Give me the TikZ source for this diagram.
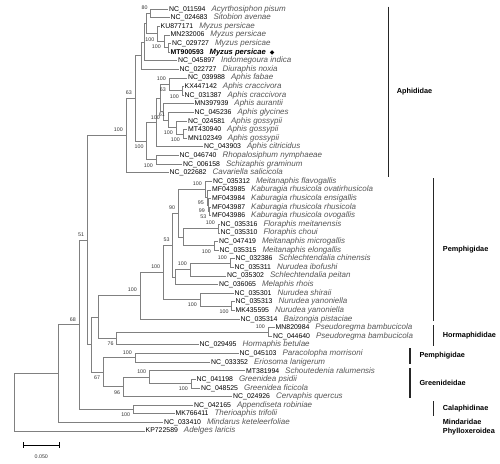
\documentclass[tikz,border=0pt]{standalone}
\usepackage{fontspec}
\setmainfont{Liberation Sans}
\newfontfamily\dejavu{DejaVu Sans}
\usetikzlibrary{calc}
\definecolor{brc}{HTML}{808080}
\definecolor{spc}{HTML}{555555}
\definecolor{bsc}{HTML}{333333}
\newcommand\accf{\fontsize{6.9}{7}\selectfont}
\newcommand\spf{\fontsize{8}{8.5}\selectfont\itshape\color{spc}}
\newcommand\mkn[4]{\path let \p1=($(#3)!.5!(#4)$) in coordinate (#1) at (#2pt,\y1);}
\newcommand\lf[5]{\coordinate (#1) at (#3,{9+(#2-1)*8.61}); \node[leaf] (#1t) at (#1) {{\accf #4}\hspace{6pt}{\spf #5}};}
\newcommand\kids[3]{\draw[brl] (#1) |- (#2); \draw[brl] (#1) |- (#3);}
\tikzset{
  leaf/.style={anchor=west, inner sep=1pt, text=black},
  bs/.style={font=\fontsize{5.3}{6}\selectfont, text=bsc, inner sep=0pt},
  bsu/.style={bs, anchor=east, xshift=-3pt, yshift=5.5pt},
  bsd/.style={bs, anchor=east, xshift=-3pt, yshift=-5.5pt},
  brl/.style={draw=brc, line width=0.6pt},
  bar/.style={draw=black!85, line width=1.6pt},
  clade/.style={anchor=west, inner sep=0pt, font=\fontsize{7.3}{8}\selectfont\bfseries},
  scl/.style={draw=black, line width=1pt}
}
\begin{document}
\begin{tikzpicture}[x=1pt,y=-1pt]
\useasboundingbox (0,0) rectangle (500,463);
% leaves
\lf{l1}{1}{168}{NC\_011594}{Acyrthosiphon pisum}
\lf{l2}{2}{169.5}{NC\_024683}{Sitobion avenae}
\lf{l3}{3}{159.5}{KU877171}{Myzus persicae}
\lf{l4}{4}{169.5}{MN232006}{Myzus persicae}
\lf{l5}{5}{171}{NC\_029727}{Myzus persicae}
\coordinate (l6) at (169.5,{9+5*8.61});
\node[leaf] (l6t) at (l6) {{\accf\bfseries MT900593}\hspace{6pt}{\fontsize{7.6}{8.5}\selectfont\bfseries\itshape Myzus persicae}\hspace{4pt}{\dejavu\fontsize{6}{7}\selectfont ◆}};
\lf{l7}{7}{177}{NC\_045897}{Indomegoura indica}
\lf{l8}{8}{178.5}{NC\_022727}{Diuraphis noxia}
\lf{l9}{9}{187}{NC\_039988}{Aphis fabae}
\lf{l10}{10}{183.5}{KX447142}{Aphis craccivora}
\lf{l11}{11}{183.5}{NC\_031387}{Aphis craccivora}
\lf{l12}{12}{193.5}{MN397939}{Aphis aurantii}
\lf{l13}{13}{193.5}{NC\_045236}{Aphis glycines}
\lf{l14}{14}{187}{NC\_024581}{Aphis gossypii}
\lf{l15}{15}{187}{MT430940}{Aphis gossypii}
\lf{l16}{16}{187}{MN102349}{Aphis gossypii}
\lf{l17}{17}{203}{NC\_043903}{Aphis citricidus}
\lf{l18}{18}{178.5}{NC\_046740}{Rhopalosiphum nymphaeae}
\lf{l19}{19}{182}{NC\_006158}{Schizaphis graminum}
\lf{l20}{20}{168.5}{NC\_022682}{Cavariella salicicola}
\lf{l21}{21}{212}{NC\_035312}{Meitanaphis flavogallis}
\lf{l22}{22}{211}{MF043985}{Kaburagia rhusicola ovatirhusicola}
\lf{l23}{23}{211}{MF043984}{Kaburagia rhusicola ensigallis}
\lf{l24}{24}{211}{MF043987}{Kaburagia rhusicola rhusicola}
\lf{l25}{25}{211}{MF043986}{Kaburagia rhusicola ovogallis}
\lf{l26}{26}{219.5}{NC\_035316}{Floraphis meitanensis}
\lf{l27}{27}{219.5}{NC\_035310}{Floraphis choui}
\lf{l28}{28}{218}{NC\_047419}{Meitanaphis microgallis}
\lf{l29}{29}{218.5}{NC\_035315}{Meitanaphis elongallis}
\lf{l30}{30}{234.5}{NC\_032386}{Schlechtendalia chinensis}
\lf{l31}{31}{233.5}{NC\_035311}{Nurudea ibofushi}
\lf{l32}{32}{226}{NC\_035302}{Schlechtendalia peitan}
\lf{l33}{33}{218}{NC\_036065}{Melaphis rhois}
\lf{l34}{34}{233.5}{NC\_035301}{Nurudea shiraii}
\lf{l35}{35}{234.5}{NC\_035313}{Nurudea yanoniella}
\lf{l36}{36}{234.5}{MK435595}{Nurudea yanoniella}
\lf{l37}{37}{239.5}{NC\_035314}{Baizongia pistaciae}
\lf{l38}{38}{274.5}{MN820984}{Pseudoregma bambucicola}
\lf{l39}{39}{272}{NC\_044640}{Pseudoregma bambucicola}
\lf{l40}{40}{198.5}{NC\_029495}{Hormaphis betulae}
\lf{l41}{41}{238.5}{NC\_045103}{Paracolopha morrisoni}
\lf{l42}{42}{210}{NC\_033352}{Eriosoma lanigerum}
\lf{l43}{43}{245}{MT381994}{Schoutedenia ralumensis}
\lf{l44}{44}{195.5}{NC\_041198}{Greenidea psidii}
\lf{l45}{45}{200}{NC\_048525}{Greenidea ficicola}
\lf{l46}{46}{232}{NC\_024926}{Cervaphis quercus}
\lf{l47}{47}{193}{NC\_042165}{Appendiseta robiniae}
\lf{l48}{48}{174.5}{MK766411}{Therioaphis trifolii}
\lf{l49}{49}{163}{NC\_033410}{Mindarus keteleerfoliae}
\lf{l50}{50}{144.5}{KP722589}{Adelges laricis}
% inner nodes
\mkn{I}{150.7}{l1}{l2}
\mkn{L}{168}{l5}{l6}
\mkn{K}{164}{l4}{L}
\mkn{J}{157.5}{l3}{K}
\mkn{M}{146.5}{I}{J}
\mkn{H}{144.3}{M}{l7}
\mkn{F}{141}{H}{l8}
\mkn{Cr}{182}{l10}{l11}
\mkn{Fa}{169}{l9}{Cr}
\mkn{GG}{183}{l15}{l16}
\mkn{G3}{176}{l14}{GG}
\mkn{N61}{168}{l13}{G3}
\mkn{N2}{163}{l12}{N61}
\mkn{N1}{160}{Fa}{N2}
\mkn{AP}{156}{N1}{l17}
\mkn{RS}{156}{l18}{l19}
\mkn{G}{146.7}{AP}{RS}
\mkn{E}{135}{F}{G}
\mkn{D}{126}{E}{l20}
\mkn{MF3}{209.5}{l24}{l25}
\mkn{MF2}{208}{l23}{MF3}
\mkn{MF1}{207}{l22}{MF2}
\mkn{Kab}{205}{l21}{MF1}
\mkn{Flor}{218}{l26}{l27}
\mkn{Meit}{214}{l28}{l29}
\mkn{FM}{183}{Flor}{Meit}
\mkn{W}{178.3}{Kab}{FM}
\mkn{P1}{230}{l30}{l31}
\mkn{P2}{190}{P1}{l32}
\mkn{P3}{175}{P2}{l33}
\mkn{T}{172.7}{W}{P3}
\mkn{V}{231.7}{l35}{l36}
\mkn{U}{200}{l34}{V}
\mkn{S}{163.3}{T}{U}
\mkn{Pem}{140}{S}{l37}
\mkn{PsR}{268}{l38}{l39}
\mkn{Hor}{116.7}{PsR}{l40}
\mkn{P}{98.3}{Pem}{Hor}
\mkn{Pem2}{135}{l41}{l42}
\mkn{GrP}{191}{l44}{l45}
\mkn{Gr1}{149.3}{l43}{GrP}
\mkn{Gr}{123.3}{Gr1}{l46}
\mkn{Q}{103.3}{Pem2}{Gr}
\mkn{N}{91.7}{P}{Q}
\mkn{C}{87.3}{D}{N}
\mkn{Cal}{133.3}{l47}{l48}
\mkn{B}{79}{C}{Cal}
\mkn{A}{58.3}{B}{l49}
\mkn{R}{14.3}{A}{l50}
% branches
\kids{I}{l1}{l2} \kids{L}{l5}{l6} \kids{K}{l4}{L} \kids{J}{l3}{K}
\kids{M}{I}{J} \kids{H}{M}{l7} \kids{F}{H}{l8}
\kids{Cr}{l10}{l11} \kids{Fa}{l9}{Cr} \kids{GG}{l15}{l16} \kids{G3}{l14}{GG}
\kids{N61}{l13}{G3} \kids{N2}{l12}{N61} \kids{N1}{Fa}{N2} \kids{AP}{N1}{l17}
\kids{RS}{l18}{l19} \kids{G}{AP}{RS} \kids{E}{F}{G} \kids{D}{E}{l20}
\kids{MF3}{l24}{l25} \kids{MF2}{l23}{MF3} \kids{MF1}{l22}{MF2} \kids{Kab}{l21}{MF1}
\kids{Flor}{l26}{l27} \kids{Meit}{l28}{l29} \kids{FM}{Flor}{Meit} \kids{W}{Kab}{FM}
\kids{P1}{l30}{l31} \kids{P2}{P1}{l32} \kids{P3}{P2}{l33} \kids{T}{W}{P3}
\kids{V}{l35}{l36} \kids{U}{l34}{V} \kids{S}{T}{U} \kids{Pem}{S}{l37}
\kids{PsR}{l38}{l39} \kids{Hor}{PsR}{l40} \kids{P}{Pem}{Hor}
\kids{Pem2}{l41}{l42} \kids{GrP}{l44}{l45} \kids{Gr1}{l43}{GrP} \kids{Gr}{Gr1}{l46}
\kids{Q}{Pem2}{Gr} \kids{N}{P}{Q} \kids{C}{D}{N} \kids{Cal}{l47}{l48}
\kids{B}{C}{Cal} \kids{A}{B}{l49} \kids{R}{A}{l50}
% bootstrap values
\node[bsu] (bI) at (I) {80};
\node[bsd] (bJ) at (J) {100};
\node[bsd] (bK) at (K) {100};
\node[bsu] (bE) at (E) {63};
\node[bsu] (bD) at (D) {100};
\node[bsu] (bFa) at (Fa) {100};
\node[bsd] (bFa2) at (Fa) {63};
\node[bsd] (bCr) at (Cr) {100};
\node[bsd] (bN2) at (N2) {100};
\node[bsu] (bN61) at (N61) {61};
\node[bsd] (bG3) at (G3) {100};
\node[bsd] (bGG) at (GG) {100};
\node[bsd] (bG) at (G) {100};
\node[bsd] (bRS) at (RS) {100};
\node[bsu] (bKab) at (Kab) {100};
\node[bsd] (bMF1) at (MF1) {95};
\node[bsd] (bMF2) at (MF2) {99};
\node[bsd] (bMF3) at (MF3) {53};
\node[bsu] (bFlor) at (Flor) {100};
\node[bsd] (bMeit) at (Meit) {100};
\node[bsu] (bW) at (W) {90};
\node[bsu] (bT) at (T) {53};
\node[bsu] (bP1) at (P1) {100};
\node[bsu] (bP2) at (P2) {100};
\node[bsu] (bS) at (S) {100};
\node[bsd] (bU) at (U) {100};
\node[bsd] (bV) at (V) {100};
\node[bsu] (bPem) at (Pem) {100};
\node[bsu] (bPsR) at (PsR) {100};
\node[bsd] (bHor) at (Hor) {76};
\node[bsu] (bPem2) at (Pem2) {100};
\node[bsu] (bGr1) at (Gr1) {100};
\node[bsd] (bGrP) at (GrP) {100};
\node[bsd] (bGr) at (Gr) {96};
\node[bsd] (bQ) at (Q) {67};
\node[bsu] (bC) at (C) {51};
\node[bsu] (bB) at (B) {68};
\node[bsd] (bCal) at (Cal) {100};
% clade bars
\draw[bar] (388.3,6.7) -- (388.3,176.7);
\draw[bar] (433.3,178.3) -- (433.3,321);
\draw[bar] (433.3,325) -- (433.3,346);
\draw[bar] (410,348) -- (410,364);
\draw[bar] (410,368) -- (410,398);
\draw[bar] (433.3,401) -- (433.3,416);
\node[clade] (cAph) at (396.7,92) {Aphididae};
\node[clade] (cPem) at (442.7,250) {Pemphigidae};
\node[clade] (cHor) at (442.7,335.5) {Hormaphididae};
\node[clade] (cPem2) at (419.3,356) {Pemphigidae};
\node[clade] (cGre) at (419.3,383) {Greenideidae};
\node[clade] (cCal) at (442.7,408.5) {Calaphidinae};
\node[clade] (cMin) at (442.7,421.7) {Mindaridae};
\node[clade] (cPhy) at (442.7,431.7) {Phylloxeroidea};
% scale bar
\coordinate (s1) at (23.3,445);
\coordinate (s2) at (59.3,445);
\draw[scl] (s1) -- (s2);
\draw[scl] ($(s1)+(0,-3)$) -- ($(s1)+(0,3)$);
\draw[scl] ($(s2)+(0,-3)$) -- ($(s2)+(0,3)$);
\node[bs] (sl) at (41.3,456.5) {0.050};
\end{tikzpicture}
\end{document}
